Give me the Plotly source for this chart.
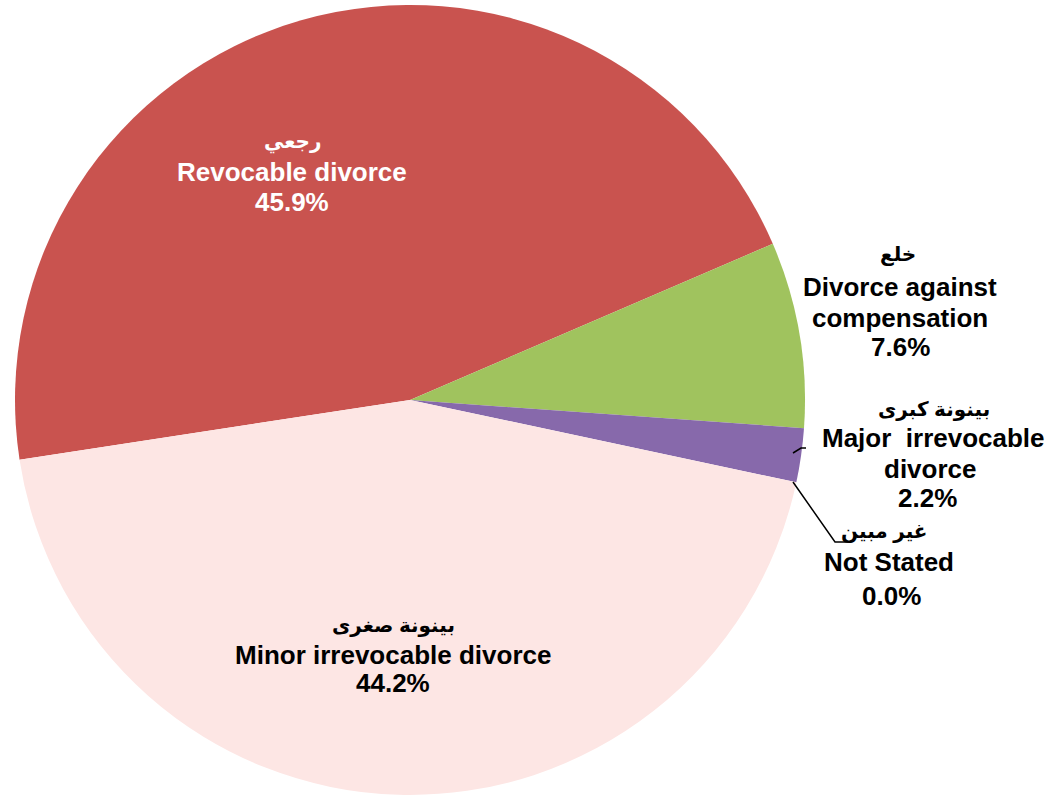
import plotly.graph_objects as go

labels_en = ["Revocable divorce", "Divorce against compensation", "Major  irrevocable divorce", "Not Stated", "Minor irrevocable divorce"]
labels_ar = ["رجعي", "خلع", "بينونة كبرى", "غير مبين", "بينونة صغرى"]
values = [45.9, 7.6, 2.2, 0.0, 44.2]
colors = ["#C9534F", "#A0C35E", "#8769AB", "#4BACC6", "#FDE6E4"]

W, H = 1054, 798
cx, cy, R = 410, 400, 395

fig = go.Figure()
fig.add_trace(go.Pie(
    labels=labels_en, values=values, sort=False, direction="clockwise",
    rotation=-98.7, textinfo="none", hoverinfo="label+percent",
    marker=dict(colors=colors, line=dict(width=0)),
    domain=dict(x=[(cx - R) / W, (cx + R) / W], y=[(H - cy - R) / H, (H - cy + R) / H]),
    showlegend=False,
))

FONT = "Arial, Liberation Sans, DejaVu Sans, sans-serif"

def txt(s, x, y, color, size=26):
    fig.add_annotation(x=x / W, y=1 - y / H, xref="paper", yref="paper", text="<b>" + s + "</b>",
                       showarrow=False, align="center", xanchor="center", yanchor="middle",
                       font=dict(family=FONT, size=size, color=color))

def label(i, lines, x, ys, color, xs=None):
    xs = xs or [x] * (len(lines) + 2)
    allt = [labels_ar[i]] + lines + ["%.1f%%" % values[i]]
    for k, (s, yy) in enumerate(zip(allt, ys)):
        txt(s, xs[k], yy, color, size=20 if k == 0 else 26)

label(0, ["Revocable divorce"], 292, [142, 172, 202], "white")
label(1, ["Divorce against", "compensation"], 900, [254, 287, 318, 347], "black", [898, 900, 900, 900])
label(2, ["Major  irrevocable", "divorce"], 932, [409, 438, 469, 498], "black", [934, 933, 930, 927])
label(3, ["Not Stated"], 889, [531, 562, 596], "black", [884, 889, 891])
label(4, ["Minor irrevocable divorce"], 393, [625, 655, 683], "black")

# leader lines
for pts in [[(793, 453), (801, 448), (806, 448)], [(793, 482), (835, 542), (848, 542)]]:
    path = "M " + " L ".join("%f,%f" % (px / W, 1 - py / H) for px, py in pts)
    fig.add_shape(type="path", path=path, xref="paper", yref="paper",
                  line=dict(color="black", width=1.5))

fig.update_layout(width=W, height=H, margin=dict(l=0, r=0, t=0, b=0),
                  paper_bgcolor="white", plot_bgcolor="white")
fig.write_html("out.html", config={"displayModeBar": False},
               post_script="document.body.style.margin='0';document.body.style.overflow='hidden';")
